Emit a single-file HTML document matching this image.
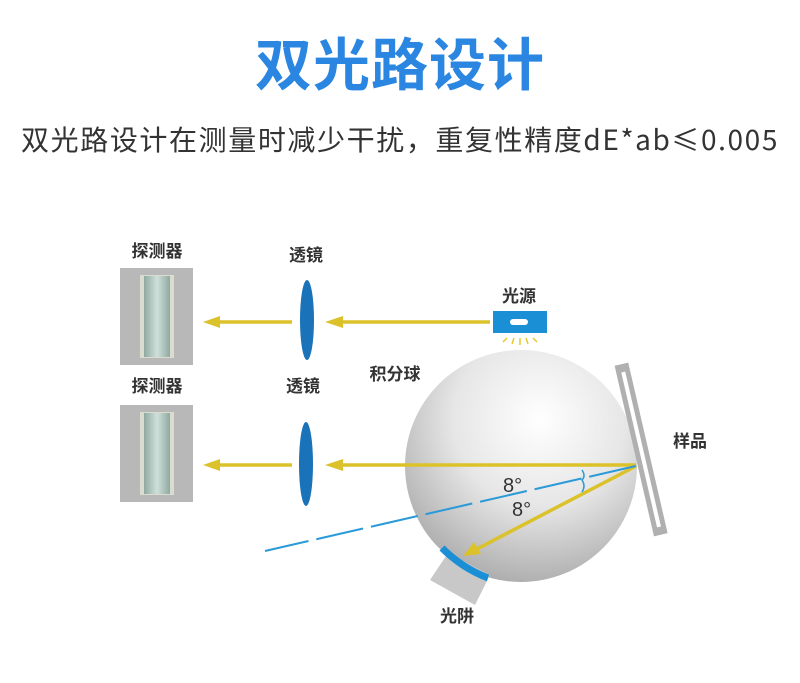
<!DOCTYPE html>
<html><head><meta charset="utf-8"><style>
html,body{margin:0;padding:0;background:#fff;width:800px;height:683px;overflow:hidden;font-family:"Liberation Sans","Noto Sans CJK SC",sans-serif}
.t{position:absolute;left:0;width:800px;text-align:center;top:26px;font-size:57px;font-weight:bold;color:#2a86e0;line-height:70px;font-family:"Noto Sans CJK SC",sans-serif;letter-spacing:1px}
.s{position:absolute;left:0;width:800px;text-align:center;top:119px;font-size:28px;color:#333;line-height:40px;font-family:"Noto Sans CJK SC",sans-serif;white-space:nowrap;letter-spacing:1.6px}
svg{position:absolute;left:0;top:0}
</style></head><body>
<div class="t">双光路设计</div>
<div class="s">双光路设计在测量时减少干扰，重复性精度dE*ab≤0.005</div>
<svg width="800" height="683" viewBox="0 0 800 683" font-family="Noto Sans CJK SC, sans-serif">
<defs>
<radialGradient id="g" cx="0.58" cy="0.3" r="0.75">
<stop offset="0" stop-color="#ffffff"/><stop offset="0.5" stop-color="#e6e6e6"/><stop offset="1" stop-color="#a8a8a8"/>
</radialGradient>
<linearGradient id="d" x1="0" x2="1"><stop offset="0" stop-color="#8fa9a0"/><stop offset="0.5" stop-color="#cfe0da"/><stop offset="1" stop-color="#8fa9a0"/></linearGradient>
</defs>
<g font-size="17" fill="#333" font-weight="bold">
<text x="157" y="257" text-anchor="middle">探测器</text>
<text x="157" y="392" text-anchor="middle">探测器</text>
<text x="306" y="261" text-anchor="middle">透镜</text>
<text x="303" y="392" text-anchor="middle">透镜</text>
<text x="519" y="302" text-anchor="middle">光源</text>
<text x="395" y="380" text-anchor="middle">积分球</text>
<text x="690" y="447" text-anchor="middle">样品</text>
<text x="457" y="622" text-anchor="middle">光阱</text>
</g>
<g>
<rect x="120" y="268" width="73" height="97" fill="#b8b8b8"/>
<rect x="140" y="275" width="34" height="83" fill="#d9dccf"/>
<rect x="144" y="276" width="26" height="81" fill="url(#d)"/>
<rect x="120" y="405" width="73" height="97" fill="#b8b8b8"/>
<rect x="140" y="412" width="34" height="83" fill="#d9dccf"/>
<rect x="144" y="413" width="26" height="81" fill="url(#d)"/>
</g>
<circle cx="521" cy="466" r="116" fill="url(#g)"/>
<polygon points="448,553 490,575 475,605 430,580" fill="#c8c8c8"/>
<path d="M442,548 Q462,568 488,578" stroke="#1a8fd6" stroke-width="7" fill="none"/>
<g transform="rotate(-13 641 449)">
<rect x="634" y="362" width="14" height="175" fill="#b0b0b0"/>
<rect x="639" y="370" width="4" height="159" fill="#fff"/>
</g>
<rect x="493" y="311" width="54" height="22" fill="#1a8fd6"/>
<rect x="510" y="319" width="18" height="6" rx="3" fill="#fff"/>
<g stroke="#e8c82a" stroke-width="1.5"><line x1="507" y1="338" x2="503" y2="342"/><line x1="514" y1="338" x2="512" y2="344"/><line x1="520" y1="338" x2="520" y2="345"/><line x1="526" y1="338" x2="528" y2="344"/><line x1="533" y1="338" x2="537" y2="342"/></g>
<g stroke="#dcc22a" stroke-width="3.5" fill="#dcc22a">
<line x1="340" y1="322" x2="490" y2="322"/>
<polygon points="325,322 343,316 343,328" stroke="none"/>
<line x1="215" y1="322" x2="292" y2="322"/>
<polygon points="203,322 220,316 220,328" stroke="none"/>
<line x1="340" y1="465" x2="636" y2="465"/>
<polygon points="325,465 343,459 343,471" stroke="none"/>
<line x1="215" y1="465" x2="292" y2="465"/>
<polygon points="203,465 220,459 220,471" stroke="none"/>
<line x1="636" y1="466" x2="475" y2="550"/>
<polygon points="463,556 474,542 481,554" stroke="none"/>
</g>
<line x1="636" y1="466" x2="265" y2="551" stroke="#2a9ad8" stroke-width="2" stroke-dasharray="48,8"/>
<path d="M582,470 q4,6 0,10 q4,6 0,12" stroke="#2a9ad8" stroke-width="1.5" fill="none"/>
<ellipse cx="307" cy="320" rx="7" ry="40" fill="#1a72b8"/>
<ellipse cx="306" cy="464" rx="7" ry="42" fill="#1a72b8"/>
<g font-family="Liberation Sans, sans-serif" font-size="20" fill="#333">
<text x="503" y="492">8°</text>
<text x="512" y="516">8°</text>
</g>
</svg>
</body></html>
